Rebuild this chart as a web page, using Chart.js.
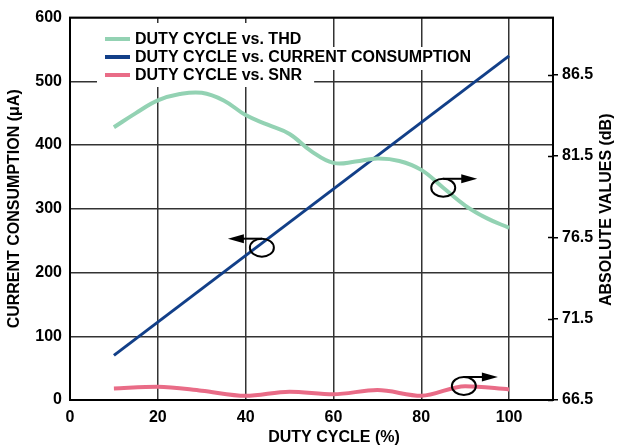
<!DOCTYPE html>
<html lang="en">
<head>
    <meta charset="UTF-8">
    <title>Duty Cycle</title>
    <style>
        body {
            margin: 0;
            padding: 0;
            background-color: #fff;
        }
        .chart-container {
            width: 619px;
            height: 448px;
        }
    </style>
</head>
<body>

<div class="chart-container">
    <canvas id="dutyChart" width="619" height="448"></canvas>
</div>

<script src="https://cdn.jsdelivr.net/npm/chart.js"></script>
<script>
    // values
    const thdDuty = [10, 15, 20, 25, 30, 35, 40, 45, 50, 55, 60, 65, 70, 75, 80, 85, 90, 95, 100];
    const thdDb = [83.26, 84.13, 84.91, 85.30, 85.38, 84.91, 84.01, 83.42, 82.85, 81.78, 81.07, 81.15, 81.34, 81.19, 80.64, 79.54, 78.45, 77.66, 77.08];

    const currentDuty = [10, 100];
    const currentUa = [70, 540];

    const snrDuty = [10, 20, 30, 40, 50, 60, 70, 80, 90, 100];
    const snrDb = [67.21, 67.31, 67.07, 66.76, 67.01, 66.86, 67.11, 66.76, 67.35, 67.15];

    const xTicks = [0, 20, 40, 60, 80, 100];
    const leftTicks = [0, 100, 200, 300, 400, 500, 600];
    const rightTicks = [66.5, 71.5, 76.5, 81.5, 86.5];

    // little "which axis" circles with arrows: x in %, y in uA, dir = arrow direction
    const markers = [
        { x: 43.7, y: 239, dir: -1 },
        { x: 85.0, y: 333, dir: 1 },
        { x: 89.7, y: 22, dir: 1 }
    ];

    const toPoints = (xs, ys) => xs.map((x, i) => ({ x: x, y: ys[i] }));

    Chart.defaults.font.family = "'Liberation Sans', Arial, sans-serif";
    Chart.defaults.font.size = 16;
    Chart.defaults.font.weight = 'bold';
    Chart.defaults.color = '#000';

    const decor = {
        id: 'decor',
        beforeDatasetsDraw(chart) {
            const ctx = chart.ctx;
            const a = chart.chartArea;
            const y1 = chart.scales.y1;
            ctx.save();
            ctx.strokeStyle = '#000';
            ctx.lineWidth = 2;
            ctx.strokeRect(a.left, a.top, a.right - a.left, a.bottom - a.top);
            // inner half of the right axis ticks
            ctx.lineWidth = 1.5;
            rightTicks.forEach(v => {
                const py = Math.round(y1.getPixelForValue(v)) + 0.5;
                ctx.beginPath();
                ctx.moveTo(a.right - 5, py);
                ctx.lineTo(a.right, py);
                ctx.stroke();
            });
            ctx.restore();
        },
        afterDatasetsDraw(chart) {
            const ctx = chart.ctx;
            const xs = chart.scales.x;
            const ys = chart.scales.y;
            ctx.save();

            // legend with white boxes over the grid
            const rows = chart.data.datasets.map(d => ({ label: d.label, color: d.borderColor }));
            const rowY = [39, 57, 75];
            const textX = 135;
            ctx.font = "bold 16px 'Liberation Sans', Arial, sans-serif";
            const w = rows.map(r => ctx.measureText(r.label).width);
            ctx.fillStyle = '#fff';
            ctx.fillRect(97, rowY[0] - 16, Math.max(w[0], w[2]) + textX - 97 + 12, rowY[2] - rowY[0] + 28);
            ctx.fillRect(97, rowY[1] - 10, w[1] + textX - 97 + 6, 23);
            ctx.textBaseline = 'middle';
            rows.forEach((r, i) => {
                ctx.strokeStyle = r.color;
                ctx.lineWidth = 4;
                ctx.beginPath();
                ctx.moveTo(105, rowY[i]);
                ctx.lineTo(130, rowY[i]);
                ctx.stroke();
                ctx.fillStyle = '#000';
                ctx.fillText(r.label, textX, rowY[i] + 1);
            });

            // circles with arrows
            ctx.strokeStyle = '#000';
            ctx.fillStyle = '#000';
            ctx.lineWidth = 2;
            markers.forEach(m => {
                const cx = xs.getPixelForValue(m.x);
                const cy = ys.getPixelForValue(m.y);
                ctx.beginPath();
                ctx.ellipse(cx, cy, 12, 9, 0, 0, Math.PI * 2);
                ctx.stroke();
                const ay = cy - 9;
                const tip = cx + m.dir * 34;
                ctx.beginPath();
                ctx.moveTo(cx, ay);
                ctx.lineTo(tip - m.dir * 12, ay);
                ctx.stroke();
                ctx.beginPath();
                ctx.moveTo(tip, ay);
                ctx.lineTo(tip - m.dir * 16, ay - 4.5);
                ctx.lineTo(tip - m.dir * 16, ay + 4.5);
                ctx.closePath();
                ctx.fill();
            });
            ctx.restore();
        },
        afterDraw(chart) {
            const ctx = chart.ctx;
            const a = chart.chartArea;
            const mid = (a.top + a.bottom) / 2;
            ctx.save();
            ctx.font = "bold 16px 'Liberation Sans', Arial, sans-serif";
            ctx.fillStyle = '#000';
            ctx.textAlign = 'center';
            ctx.textBaseline = 'middle';
            ctx.fillText('DUTY CYCLE (%)', 334, 438);

            ctx.translate(15, mid);
            ctx.rotate(-Math.PI / 2);
            ctx.fillText('CURRENT CONSUMPTION (\u03bcA)', 0, 0);
            ctx.restore();

            ctx.save();
            ctx.font = "bold 16px 'Liberation Sans', Arial, sans-serif";
            ctx.fillStyle = '#000';
            ctx.textAlign = 'center';
            ctx.textBaseline = 'middle';
            ctx.translate(607, mid + 1);
            ctx.rotate(-Math.PI / 2);
            ctx.fillText('ABSOLUTE VALUES (dB)', 0, 0);
            ctx.restore();
        }
    };

    const ctx = document.getElementById('dutyChart').getContext('2d');
    const chart = new Chart(ctx, {
        type: 'line',
        data: {
            datasets: [
                {
                    label: 'DUTY CYCLE vs. THD',
                    data: toPoints(thdDuty, thdDb),
                    yAxisID: 'y1',
                    borderColor: '#93d2b3',
                    borderWidth: 4,
                    tension: 0.4,
                    pointRadius: 0
                },
                {
                    label: 'DUTY CYCLE vs. CURRENT CONSUMPTION',
                    data: toPoints(currentDuty, currentUa),
                    yAxisID: 'y',
                    borderColor: '#123f88',
                    borderWidth: 3,
                    pointRadius: 0
                },
                {
                    label: 'DUTY CYCLE vs. SNR',
                    data: toPoints(snrDuty, snrDb),
                    yAxisID: 'y1',
                    borderColor: '#e96c87',
                    borderWidth: 4,
                    cubicInterpolationMode: 'monotone',
                    pointRadius: 0
                }
            ]
        },
        options: {
            responsive: false,
            animation: false,
            layout: {
                padding: { top: 15, left: 0, right: 0, bottom: 0 }
            },
            plugins: {
                legend: { display: false },
                tooltip: { enabled: false }
            },
            scales: {
                x: {
                    type: 'linear',
                    min: 0,
                    max: 110,
                    afterBuildTicks: s => { s.ticks = xTicks.map(v => ({ value: v })); },
                    afterFit: s => { s.height = 48; },
                    grid: { color: '#333', lineWidth: 1.5, drawTicks: false },
                    border: { display: false },
                    ticks: { padding: 8 }
                },
                y: {
                    position: 'left',
                    min: 0,
                    max: 600,
                    afterBuildTicks: s => { s.ticks = leftTicks.map(v => ({ value: v })); },
                    afterFit: s => { s.width = 70; },
                    grid: { color: '#333', lineWidth: 1.5, drawTicks: false },
                    border: { display: false },
                    ticks: { padding: 8 }
                },
                y1: {
                    position: 'right',
                    min: 66.5,
                    max: 90,
                    afterBuildTicks: s => { s.ticks = rightTicks.map(v => ({ value: v })); },
                    afterFit: s => { s.width = 66; },
                    grid: { drawOnChartArea: false, color: '#000', lineWidth: 1.5, tickLength: 5 },
                    border: { display: false },
                    ticks: { padding: 4, callback: v => v.toFixed(1) }
                }
            }
        },
        plugins: [decor]
    });
</script>

</body>
</html>
